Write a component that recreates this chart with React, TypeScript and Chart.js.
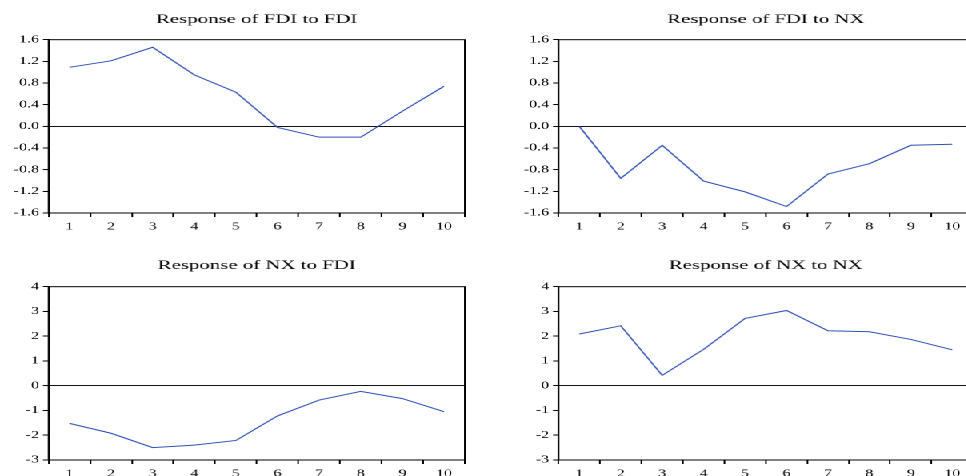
import React, { useEffect, useRef } from 'react';
import { Chart, registerables } from 'chart.js';

Chart.register(...registerables);

// ---- data ----
const periods = ['1', '2', '3', '4', '5', '6', '7', '8', '9', '10'];
const fdiToFdi = [1.09, 1.21, 1.46, 0.95, 0.63, -0.02, -0.2, -0.2, 0.28, 0.74];
const fdiToNx = [0.0, -0.96, -0.35, -1.01, -1.21, -1.48, -0.88, -0.69, -0.35, -0.33];
const nxToFdi = [-1.52, -1.92, -2.5, -2.4, -2.21, -1.22, -0.58, -0.23, -0.52, -1.05];
const nxToNx = [2.09, 2.42, 0.42, 1.47, 2.72, 3.04, 2.22, 2.18, 1.87, 1.45];
const fdiTicks = [-1.6, -1.2, -0.8, -0.4, 0.0, 0.4, 0.8, 1.2, 1.6];
const nxTicks = [-3, -2, -1, 0, 1, 2, 3, 4];
const titles = [
  'Response of FDI to FDI',
  'Response of FDI to NX',
  'Response of NX to FDI',
  'Response of NX to NX',
];

// horizontal stretch of the reference picture
const S = 1.6;
const FONT = '"Liberation Serif", "Times New Roman", serif';

type PanelCfg = {
  title: string;
  values: number[];
  ticks: number[];
  decimals: number;
  left: number;
  top: number;
  width: number;
  height: number;
  yAxisW: number;
  rightPad: number;
  topPad: number;
  titleY: number;
};

const panels: PanelCfg[] = [
  { title: titles[0], values: fdiToFdi, ticks: fdiTicks, decimals: 1, left: 0, top: 0, width: 483, height: 238, yAxisW: 48.5, rightPad: 19, topPad: 39.7, titleY: 23 },
  { title: titles[1], values: fdiToNx, ticks: fdiTicks, decimals: 1, left: 483, top: 0, width: 500, height: 238, yAxisW: 75.5, rightPad: 9.4, topPad: 39.7, titleY: 23 },
  { title: titles[2], values: nxToFdi, ticks: nxTicks, decimals: 0, left: 0, top: 238, width: 483, height: 247, yAxisW: 48.5, rightPad: 19, topPad: 48.7, titleY: 31 },
  { title: titles[3], values: nxToNx, ticks: nxTicks, decimals: 0, left: 483, top: 238, width: 500, height: 247, yAxisW: 75.5, rightPad: 9.4, topPad: 48.7, titleY: 31 },
];

const framePlugin = {
  id: 'frame',
  afterDraw(chart: any, _args: any, opts: any) {
    const { ctx, chartArea: a } = chart;
    ctx.save();
    ctx.strokeStyle = '#000';
    ctx.lineWidth = 1;
    ctx.strokeRect(a.left, a.top, a.right - a.left, a.bottom - a.top);
    ctx.fillStyle = '#000';
    ctx.font = `13px ${FONT}`;
    ctx.textAlign = 'center';
    ctx.textBaseline = 'alphabetic';
    ctx.fillText(opts.text, (a.left + a.right) / 2, opts.y);
    ctx.restore();
  },
};

function Panel({ cfg }: { cfg: PanelCfg }) {
  const ref = useRef<HTMLCanvasElement | null>(null);
  useEffect(() => {
    if (!ref.current) return;
    const min = cfg.ticks[0];
    const max = cfg.ticks[cfg.ticks.length - 1];
    const chart = new Chart(ref.current, {
      type: 'line',
      data: {
        labels: periods,
        datasets: [
          {
            data: cfg.values,
            borderColor: '#2F52B6',
            borderWidth: 1,
            pointRadius: 0,
            tension: 0,
            fill: false,
          },
        ],
      },
      plugins: [framePlugin as any],
      options: {
        animation: false,
        responsive: true,
        maintainAspectRatio: false,
        devicePixelRatio: 2,
        layout: {
          padding: { left: 0, right: cfg.rightPad / S, top: cfg.topPad, bottom: 0 },
        },
        plugins: {
          legend: { display: false },
          tooltip: { enabled: false },
          title: { display: false },
          frame: { text: cfg.title, y: cfg.titleY },
        } as any,
        scales: {
          x: {
            type: 'category',
            offset: true,
            grid: {
              offset: true,
              drawOnChartArea: false,
              drawTicks: true,
              tickLength: 4,
              color: '#000',
              tickColor: '#000',
            },
            border: { display: true, color: '#000', width: 1 },
            ticks: {
              color: '#000',
              padding: 4,
              maxRotation: 0,
              autoSkip: false,
              font: { family: FONT, size: 10 },
            },
            afterFit: (scale: any) => {
              scale.height = 25;
            },
          },
          y: {
            type: 'linear',
            min,
            max,
            afterBuildTicks: (scale: any) => {
              scale.ticks = cfg.ticks.map((v) => ({ value: v }));
            },
            grid: {
              drawOnChartArea: true,
              drawTicks: true,
              tickLength: 3.5,
              color: (c: any) =>
                c.tick && Math.abs(c.tick.value) < 1e-9 ? '#111' : 'rgba(0,0,0,0)',
              tickColor: '#000',
              lineWidth: 1,
            },
            border: { display: true, color: '#000', width: 1 },
            ticks: {
              color: '#000',
              padding: 2.5,
              font: { family: FONT, size: 10 },
              callback: (v: any) => {
                const n = Number(v);
                if (Math.abs(n) < 1e-9) return (0).toFixed(cfg.decimals);
                return n.toFixed(cfg.decimals);
              },
            },
            afterFit: (scale: any) => {
              scale.width = cfg.yAxisW / S;
            },
          },
        },
      },
    } as any);
    return () => chart.destroy();
  }, [cfg]);

  return (
    <div
      style={{
        position: 'absolute',
        left: cfg.left / S,
        top: cfg.top,
        width: cfg.width / S,
        height: cfg.height,
      }}
    >
      <canvas ref={ref} />
    </div>
  );
}

export default function App() {
  useEffect(() => {
    document.body.style.margin = '0';
    document.body.style.overflow = 'hidden';
  }, []);
  return (
    <div
      style={{
        position: 'fixed',
        left: 0,
        top: 0,
        width: 966,
        height: 476,
        overflow: 'hidden',
        background: '#fff',
      }}
    >
      <div
        style={{
          position: 'absolute',
          left: 0,
          top: 0,
          width: 1000 / S,
          height: 500,
          transform: `scaleX(${S})`,
          transformOrigin: '0 0',
        }}
      >
        {panels.map((p, i) => (
          <Panel key={i} cfg={p} />
        ))}
      </div>
    </div>
  );
}
